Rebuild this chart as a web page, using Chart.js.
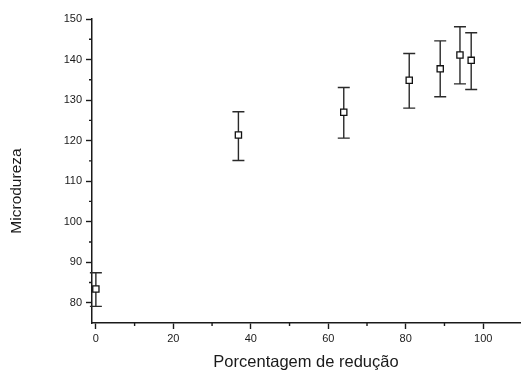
<!DOCTYPE html>
<html lang="pt">
  <head>
    <meta charset="UTF-8" />
    <title>Microdureza x Porcentagem de redução</title>
    <style>
      html, body { margin: 0; padding: 0; background: #fff; }
      .container { width: 521px; height: 371px; }
    </style>
  </head>
  <body>
    <div class="container">
      <canvas id="myChart" width="521" height="371"></canvas>
    </div>
    <script src="https://cdn.jsdelivr.net/npm/chart.js@4"></script>
    <script>
      // valores
      const reducao = [0, 36.8, 64.0, 80.9, 88.9, 94.0, 96.9];
      const microdureza = [83.4, 121.4, 127.0, 134.9, 137.7, 141.1, 139.8];
      const erroMin = [79.1, 115.1, 120.6, 128.0, 130.8, 134.0, 132.6];
      const erroMax = [87.4, 127.1, 133.1, 141.5, 144.6, 148.1, 146.6];
      const xTicks = [0, 20, 40, 60, 80, 100];
      const xMinor = [10, 30, 50, 70, 90];
      const yTicks = [80, 90, 100, 110, 120, 130, 140, 150];
      const yMinor = [85, 95, 105, 115, 125, 135, 145];

      const fontFamily = '"Liberation Sans", Arial, sans-serif';
      const ink = '#1a1a1a';

      const pontos = reducao.map((x, i) => ({ x: x, y: microdureza[i], lo: erroMin[i], hi: erroMax[i] }));

      // barras de erro, desenhadas antes dos marcadores
      const errorBars = {
        id: 'errorBars',
        beforeDatasetsDraw(chart) {
          const { ctx, scales } = chart;
          ctx.save();
          ctx.strokeStyle = '#2a2a2a';
          ctx.lineWidth = 1.4;
          chart.data.datasets[0].data.forEach((p) => {
            const px = scales.x.getPixelForValue(p.x);
            const top = scales.y.getPixelForValue(p.hi);
            const bot = scales.y.getPixelForValue(p.lo);
            ctx.beginPath();
            ctx.moveTo(px, top);
            ctx.lineTo(px, bot);
            ctx.moveTo(px - 6, top);
            ctx.lineTo(px + 6, top);
            ctx.moveTo(px - 6, bot);
            ctx.lineTo(px + 6, bot);
            ctx.stroke();
          });
          ctx.restore();
        },
      };

      // ticks menores + título do eixo y
      const axisExtras = {
        id: 'axisExtras',
        afterDraw(chart) {
          const { ctx, scales, chartArea } = chart;
          ctx.save();
          ctx.strokeStyle = ink;
          ctx.lineWidth = 1.4;
          ctx.beginPath();
          xMinor.forEach((v) => {
            const px = scales.x.getPixelForValue(v);
            ctx.moveTo(px, chartArea.bottom);
            ctx.lineTo(px, chartArea.bottom + 3);
          });
          yMinor.forEach((v) => {
            const py = scales.y.getPixelForValue(v);
            ctx.moveTo(chartArea.left, py);
            ctx.lineTo(chartArea.left - 3, py);
          });
          ctx.stroke();

          ctx.fillStyle = ink;
          ctx.font = '15.5px ' + fontFamily;
          ctx.textAlign = 'center';
          ctx.textBaseline = 'middle';
          ctx.translate(17, (chartArea.top + chartArea.bottom) / 2 + 20);
          ctx.rotate(-Math.PI / 2);
          ctx.fillText('Microdureza', 0, 0);
          ctx.restore();
        },
      };

      const config = {
        type: 'scatter',
        data: {
          datasets: [
            {
              label: 'Microdureza',
              data: pontos,
              pointStyle: 'rect',
              pointRadius: 4.4,
              pointHoverRadius: 4.4,
              pointBorderWidth: 1.3,
              pointBorderColor: '#111',
              pointBackgroundColor: '#fff',
            },
          ],
        },
        options: {
          animation: false,
          responsive: false,
          layout: { autoPadding: false, padding: { top: 19, right: 1, left: 0, bottom: 0 } },
          plugins: {
            legend: { display: false },
            tooltip: { enabled: false },
          },
          scales: {
            x: {
              type: 'linear',
              min: -1,
              max: 109.5,
              afterBuildTicks: (scale) => {
                scale.ticks = xTicks.map((v) => ({ value: v }));
              },
              afterFit: (scale) => {
                scale.height = 48;
              },
              grid: {
                drawOnChartArea: false,
                drawTicks: true,
                tickLength: 6,
                tickWidth: 1.4,
                tickColor: ink,
              },
              border: { display: true, color: ink, width: 1.5 },
              ticks: {
                padding: 3,
                color: ink,
                maxRotation: 0,
                font: { family: fontFamily, size: 11 },
              },
              title: {
                display: true,
                text: 'Porcentagem de redução',
                color: ink,
                padding: { top: 0, bottom: 0 },
                font: { family: fontFamily, size: 16.5, lineHeight: 1 },
              },
            },
            y: {
              type: 'linear',
              min: 75,
              max: 150,
              afterBuildTicks: (scale) => {
                scale.ticks = yTicks.map((v) => ({ value: v }));
              },
              afterFit: (scale) => {
                scale.width = 92;
              },
              grid: {
                drawOnChartArea: false,
                drawTicks: true,
                tickLength: 6,
                tickWidth: 1.4,
                tickColor: ink,
              },
              border: { display: true, color: ink, width: 1.5 },
              ticks: {
                padding: 4,
                color: ink,
                font: { family: fontFamily, size: 11 },
              },
            },
          },
        },
        plugins: [errorBars, axisExtras],
      };

      const myChart = new Chart(document.getElementById('myChart'), config);
    </script>
  </body>
</html>
